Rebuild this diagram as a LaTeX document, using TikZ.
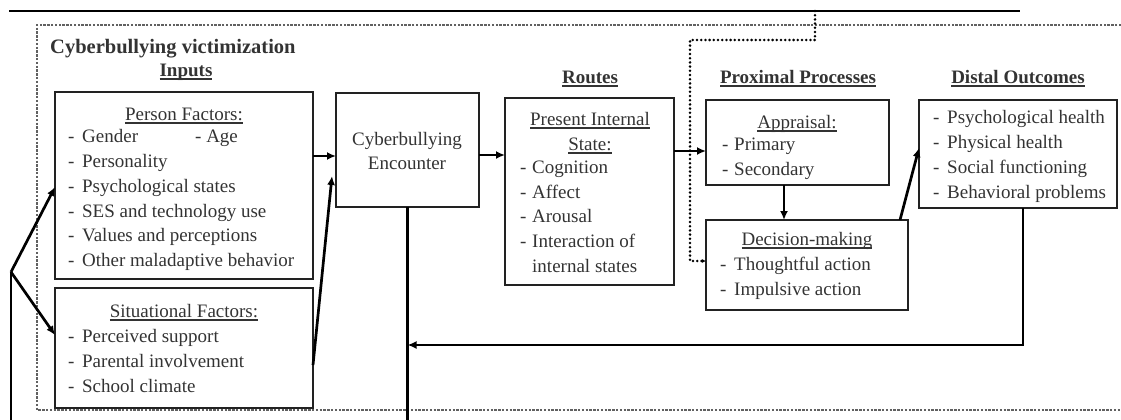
\documentclass[tikz,border=0pt]{standalone}
\usepackage{fontspec}
\setmainfont{Liberation Serif}
\usetikzlibrary{arrows.meta}
\definecolor{tcol}{HTML}{333333}
\definecolor{lcol}{HTML}{222222}
\newcommand{\itm}{\makebox[14pt][l]{-}}
\newcommand{\fsn}{\fontsize{19}{25}\selectfont}
\newcommand{\myul}[1]{\setbox0=\hbox{#1}\rlap{\vrule height -2.4pt depth 3.5pt width \wd0}\box0}
\begin{document}
\begin{tikzpicture}[x=1pt,y=-1pt,
 box/.style={draw=lcol, line width=1.8pt, inner sep=0pt, outer sep=0pt, anchor=north west},
 tl/.style={anchor=base west, inner sep=0pt, font=\fsn, text=tcol},
 tc/.style={anchor=base, inner sep=0pt, font=\fsn, text=tcol},
 hd/.style={anchor=base, inner sep=0pt, font=\fontsize{19}{24}\selectfont\bfseries, text=tcol},
 arr/.style={line width=2.7pt, draw=black, -{Latex[length=9pt,width=8pt]}},
 ln/.style={line width=2.4pt, draw=black},
 dots/.style={line width=2.8pt, draw=black, dash pattern=on 0pt off 4.2pt, line cap=round},
 dsh/.style={line width=1.7pt, draw=black!62, dash pattern=on 2.4pt off 1.4pt}]
\useasboundingbox (0,0) rectangle (1121,420);

% outer dashed frame
\draw[dsh] (1125,25) -- (37,25) -- (37,410) -- (1125,410);

% top solid line and left feedback line
\coordinate (topL) at (9,11);
\coordinate (topR) at (1020,11);
\coordinate (dtop) at (815,11);
\coordinate (dbend) at (815,40);
\coordinate (dleft) at (690,40);
\coordinate (dlow) at (690,261);
\coordinate (fork) at (11,272);
\coordinate (lbot) at (11,420);
\draw[ln] (topL) -- (topR);

% boxes
\node[box, minimum width=258pt, minimum height=187pt] (pf) at (55,92) {};
\node[box, minimum width=258pt, minimum height=120pt] (sf) at (55,288) {};
\node[box, minimum width=143pt, minimum height=114pt] (cb) at (336,93) {};
\node[box, minimum width=169pt, minimum height=187pt] (pis) at (505,98) {};
\node[box, minimum width=183pt, minimum height=85pt] (ap) at (706,100) {};
\node[box, minimum width=202pt, minimum height=90pt] (dm) at (706,220) {};
\node[box, minimum width=198pt, minimum height=108pt] (do) at (919,100) {};

% titles and headers
\node[anchor=base west, inner sep=0pt, font=\fontsize{20.5}{24}\selectfont\bfseries, text=tcol] (title) at (50,54) {Cyberbullying victimization};
\node[hd] (hin) at (186,76) {\myul{Inputs}};
\node[hd] (hro) at (590,83) {\myul{Routes}};
\node[hd] (hpp) at (798,83) {\myul{Proximal Processes}};
\node[hd] (hdo) at (1018,83) {\myul{Distal Outcomes}};

% person factors
\node[tc] (pft) at (184,120) {\myul{Person Factors:}};
\node[tl] (pf1) at (68,142) {\itm Gender};
\node[tl] (pf1b) at (195,142) {- Age};
\node[tl] (pf2) at (68,167) {\itm Personality};
\node[tl] (pf3) at (68,192) {\itm Psychological states};
\node[tl] (pf4) at (68,217) {\itm SES and technology use};
\node[tl] (pf5) at (68,241) {\itm Values and perceptions};
\node[tl] (pf6) at (68,266) {\itm Other maladaptive behavior};

% situational factors
\node[tc] (sft) at (184,317) {\myul{Situational Factors:}};
\node[tl] (sf1) at (68,342) {\itm Perceived support};
\node[tl] (sf2) at (68,367) {\itm Parental involvement};
\node[tl] (sf3) at (68,392) {\itm School climate};

% cyberbullying encounter
\node[tc] (cb1) at (407,145) {Cyberbullying};
\node[tc] (cb2) at (407,169) {Encounter};

% present internal state
\node[tc] (pis1) at (590,125) {\myul{Present Internal}};
\node[tc] (pis2) at (590,150) {\myul{State:}};
\node[tl] (pis3) at (520,173) {\makebox[12pt][l]{-}Cognition};
\node[tl] (pis4) at (520,198) {\makebox[12pt][l]{-}Affect};
\node[tl] (pis5) at (520,222) {\makebox[12pt][l]{-}Arousal};
\node[tl] (pis6) at (520,247) {\makebox[12pt][l]{-}Interaction of};
\node[tl] (pis7) at (532,272) {internal states};

% appraisal
\node[tc] (ap1) at (797,128) {\myul{Appraisal:}};
\node[tl] (ap2) at (722,150) {\makebox[12pt][l]{-}Primary};
\node[tl] (ap3) at (722,175) {\makebox[12pt][l]{-}Secondary};

% decision making
\node[tc] (dm1) at (807,245) {\myul{Decision-making}};
\node[tl] (dm2) at (720,270) {\itm Thoughtful action};
\node[tl] (dm3) at (720,295) {\itm Impulsive action};

% distal outcomes
\node[tl] (do1) at (933,123) {\itm Psychological health};
\node[tl] (do2) at (933,148) {\itm Physical health};
\node[tl] (do3) at (933,173) {\itm Social functioning};
\node[tl] (do4) at (933,198) {\itm Behavioral problems};

% connectors
\draw[arr] (fork) -- (pf.west |- 0,187);
\draw[arr] (fork) -- (sf.west |- 0,335);
\draw[ln] (fork) -- (lbot);
\draw[arr] (pf.east |- 0,156) -- (cb.west |- 0,156);
\draw[arr] (sf.east |- 0,365) -- ([xshift=-4pt]cb.west |- 0,176);
\draw[arr] (cb.east |- 0,155) -- (pis.west |- 0,155);
\draw[arr] (pis.east |- 0,151) -- (ap.west |- 0,151);
\draw[arr] (ap.south -| 784,0) -- (dm.north -| 784,0);
\draw[arr] ([xshift=-8pt]dm.north east) -- (do.west |- 0,148);
\draw[ln] (cb.south) -- (cb.south |- lbot);
\draw[arr] ([xshift=5pt]do.south) -- ([xshift=5pt]do.south |- 0,345) -- (cb.south |- 0,345);

% dotted path
\draw[dots, -{Latex[length=4pt,width=4pt]}] (dtop) -- (dbend) -- (dleft) -- (dlow) -- (dm.west |- dlow);
\end{tikzpicture}
\end{document}
